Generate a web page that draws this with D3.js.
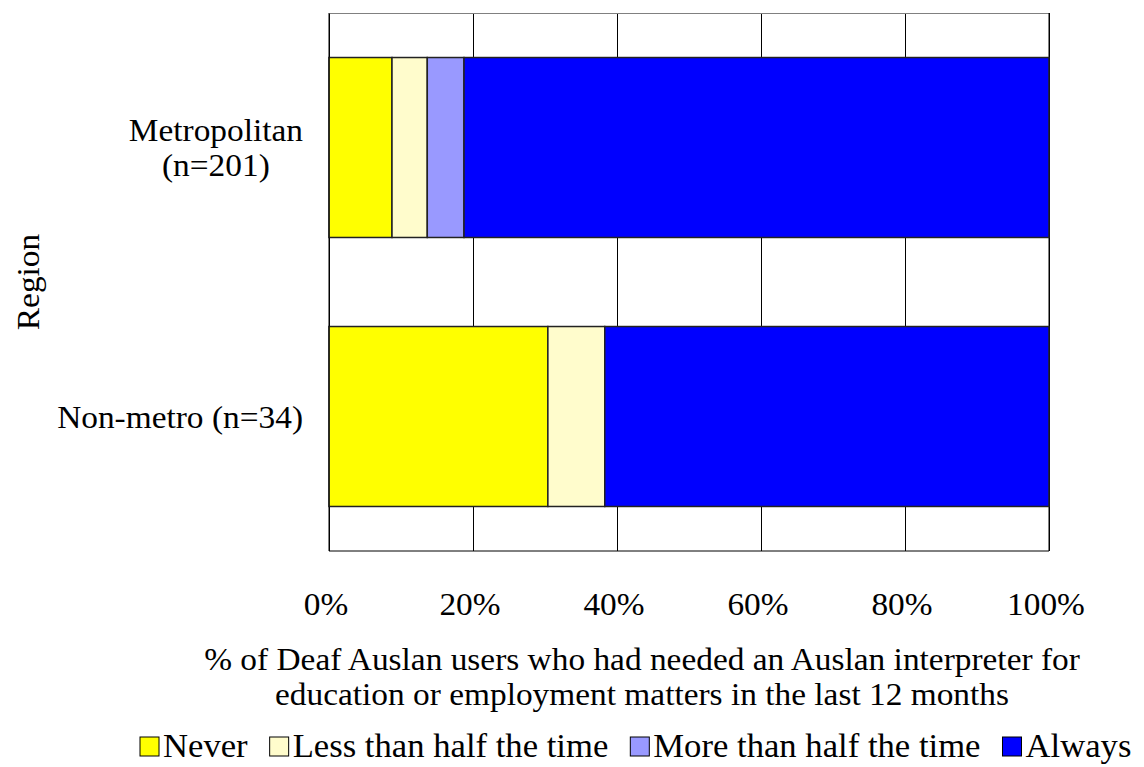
<!DOCTYPE html>
<html><head><meta charset="utf-8">
<script src="https://cdn.jsdelivr.net/npm/d3@7/dist/d3.min.js"></script>
<style>body{margin:0;background:#fff}svg{display:block}text{font-family:"Liberation Serif","Times New Roman",serif;fill:#000}</style>
</head><body><svg id="c" width="1144" height="767"></svg>
<script>
const categories = ["Metropolitan (n=201)", "Non-metro (n=34)"];
const categoryLines = [["Metropolitan", "(n=201)"], ["Non-metro (n=34)"]];
const seriesNames = ["Never", "Less than half the time", "More than half the time", "Always"];
const seriesColors = ["#FFFF00", "#FFFCCC", "#9999FF", "#0000FF"];
const never = [8.75, 30.4];
const lessThanHalf = [4.9, 7.9];
const moreThanHalf = [5.1, 0];
const always = [81.25, 61.7];
const tickValues = [0, 20, 40, 60, 80, 100];
const xTitle = ["% of Deaf Auslan users who had needed an Auslan interpreter for", "education or employment matters in the last 12 months"];
const yTitle = "Region";

const FS = "31.5px", SX = 1.06;
const svg = d3.select("#c");
const L = 329, R = 1049, T = 13, B = 551;
const x = d3.scaleLinear().domain([0, 100]).range([L, R]);
const y = d3.scaleBand().domain(categories).range([T, B]).paddingInner(0.331).paddingOuter(0.1655);

function label(parent, ax, ay, str, anchor, rot, fs) {
  const g = parent.append("g").attr("transform", `translate(${ax},${ay})` + (rot ? ` rotate(${rot})` : "") + ` scale(${SX},1)`);
  const t = g.append("text").attr("text-anchor", anchor || "middle").attr("dy", "0.35em").style("font-size", fs || FS).text(str);
  return {g, t};
}

const rows = categories.map((c, i) => ({cat: c, vals: [never[i], lessThanHalf[i], moreThanHalf[i], always[i]]}));
const stack = d3.stack().keys([0,1,2,3]).value((d, k) => d.vals[k]);
const layers = stack(rows);

svg.append("rect").attr("x", L).attr("y", T).attr("width", R - L).attr("height", B - T).attr("fill", "#fff");
const xAxis = d3.axisBottom(x).tickValues(tickValues).tickSize(-(B - T)).tickFormat("");
const gx = svg.append("g").attr("transform", `translate(0,${B})`).call(xAxis);
gx.select(".domain").remove();
gx.selectAll(".tick line").attr("stroke", "#000").attr("stroke-width", 1);
tickValues.forEach(v => label(svg, x(v) - 3, 604, v + "%", "middle"));

svg.append("line").attr("x1", L).attr("x2", R).attr("y1", T + 0.5).attr("y2", T + 0.5).attr("stroke", "#808080");
svg.append("line").attr("x1", R).attr("x2", R).attr("y1", T).attr("y2", B).attr("stroke", "#000");
svg.append("line").attr("x1", L).attr("x2", R).attr("y1", B).attr("y2", B).attr("stroke", "#000");

svg.append("g").selectAll("g").data(layers).join("g")
  .attr("fill", (d, i) => seriesColors[i])
  .selectAll("rect").data(d => d.filter(p => p[1] - p[0] > 0)).join("rect")
  .attr("x", d => x(d[0])).attr("width", d => x(d[1]) - x(d[0]))
  .attr("y", d => y(d.data.cat)).attr("height", y.bandwidth())
  .attr("stroke", "#222").attr("stroke-width", 1.5);

svg.append("line").attr("x1", L).attr("x2", L).attr("y1", T).attr("y2", B).attr("stroke", "#000");

categories.forEach((c, i) => {
  const lines = categoryLines[i];
  const cy = y(c) + y.bandwidth() / 2;
  const items = lines.map((ln, j) => label(svg, 0, cy + (j - (lines.length - 1) / 2) * 35, ln, "middle"));
  const maxW = d3.max(items, it => it.t.node().getComputedTextLength()) * SX;
  const cx = 303 - maxW / 2;
  items.forEach((it, j) => it.g.attr("transform", `translate(${cx},${cy + (j - (lines.length - 1) / 2) * 35}) scale(${SX},1)`));
});

label(svg, 28, 282, yTitle, "middle", -90);
xTitle.forEach((t, j) => label(svg, 642, 659 + j * 35, t, "middle"));

// legend
let lx = 140;
const ly = 746;
seriesNames.forEach((n, i) => {
  svg.append("rect").attr("x", lx).attr("y", ly - 9).attr("width", 19).attr("height", 19).attr("fill", seriesColors[i]).attr("stroke", "#000").attr("stroke-width", 1);
  const it = label(svg, lx + 23, ly, n, "start", null, "32.7px");
  lx += 23 + it.t.node().getComputedTextLength() * SX + 22;
});
</script></body></html>
